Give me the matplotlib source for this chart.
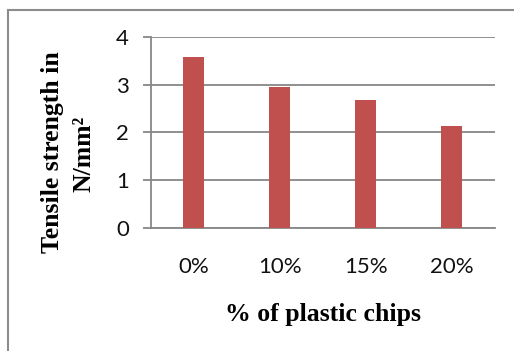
import matplotlib
matplotlib.use("Agg")
import matplotlib.pyplot as plt
from matplotlib.lines import Line2D

categories = ["0%", "10%", "15%", "20%"]
tensile_strength = [3.58, 2.95, 2.67, 2.13]
y_ticks = [0, 1, 2, 3, 4]

W, H = 514, 351
fig = plt.figure(figsize=(W / 100, H / 100), dpi=100)
fig.patch.set_facecolor("white")

# Axes placement in pixel units
left, right, bottom, top = 150.7, 494.7, 228, 36.7
ax = fig.add_axes([left / W, 1 - bottom / H, (right - left) / W, (bottom - top) / H])

grid_color = "#878787"
x = range(len(categories))
ax.bar(x, tensile_strength, width=0.25, color="#C0504D", zorder=3)

ax.set_xlim(-0.5, len(categories) - 0.5)
ax.set_ylim(0, 4)
ax.set_yticks(y_ticks)
ax.set_xticks(list(x))
ax.set_xticklabels(categories)

ax.yaxis.grid(True, color=grid_color, linewidth=1.3, zorder=0)
ax.set_axisbelow(True)
for side in ["top", "right"]:
    ax.spines[side].set_visible(False)
ax.spines["left"].set_color(grid_color)
ax.spines["left"].set_linewidth(1.3)
ax.spines["bottom"].set_color(grid_color)
ax.spines["bottom"].set_linewidth(1.3)

ax.tick_params(axis="y", direction="out", length=5.8, width=1.3, color=grid_color,
               pad=10, labelsize=16)
ax.tick_params(axis="x", length=0, pad=21, labelsize=16)
for lab in ax.get_xticklabels() + ax.get_yticklabels():
    lab.set_fontfamily(["Lato", "DejaVu Sans"])
    lab.set_color("#111111")

serif = ["Liberation Serif", "DejaVu Serif"]
fig.text(323 / W, 1 - 315 / H, "% of plastic chips", ha="center", va="center",
         fontsize=18.5, fontweight="bold", family=serif)
fig.text(53 / W, 1 - 152 / H, "Tensile strength in", ha="center", va="center",
         rotation=90, fontsize=18.5, fontweight="bold", family=serif)
fig.text(84 / W, 1 - 154 / H, "N/mm²", ha="center", va="center",
         rotation=90, fontsize=18.5, fontweight="bold", family=serif)

# Outer frame (left and top edges)
frame_color = "#8c8c8c"
fig.add_artist(Line2D([8 / W, 8 / W], [0, 1 - 10 / H], transform=fig.transFigure,
                      color=frame_color, linewidth=1.5))
fig.add_artist(Line2D([8 / W, 1], [1 - 10 / H, 1 - 10 / H], transform=fig.transFigure,
                      color=frame_color, linewidth=1.5))

fig.savefig("out.png", dpi=100)
